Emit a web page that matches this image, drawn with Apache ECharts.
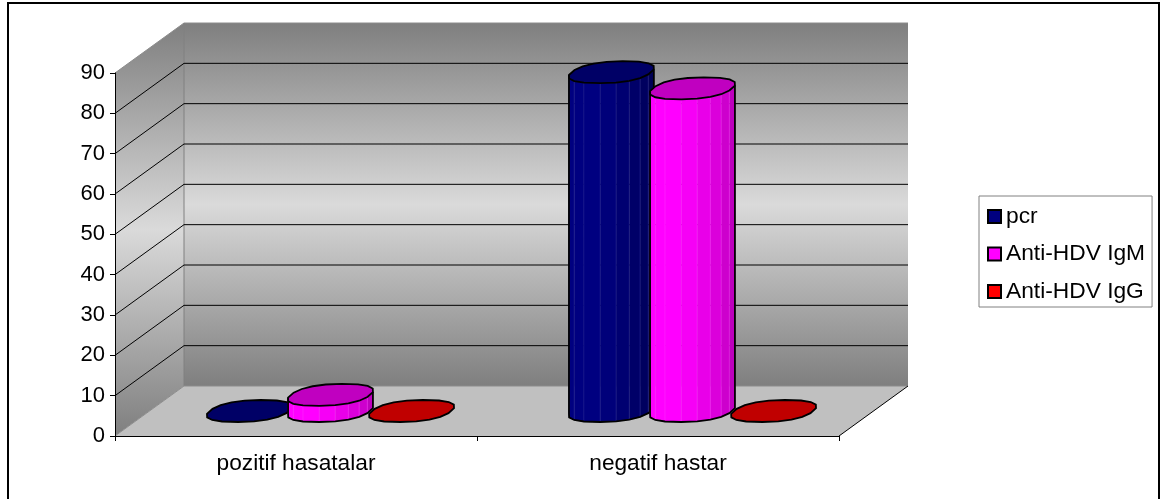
<!DOCTYPE html>
<html>
<head>
<meta charset="utf-8">
<style>html,body{margin:0;padding:0;background:#fff;overflow:hidden}#c{width:1162px;height:499px}</style>
<script src="https://cdn.jsdelivr.net/npm/echarts@6/dist/echarts.min.js"></script>
</head>
<body>
<div id="c"></div>
<script>
const categories = ['pozitif hasatalar', 'negatif hastar'];
const pcr = [0, 84];
const antiHdvIgM = [4, 80];
const antiHdvIgG = [0, 0];
const yTicks = [10, 20, 30, 40, 50, 60, 70, 80];

// Depth of the pseudo-3D box in pixels
const DX = 69, DY = 50;
const FONT = '"Liberation Sans", Arial, sans-serif';

function lerp(a, b, t) { return a + (b - a) * t; }
function mix(c1, c2, t) {
  return 'rgb(' + [0, 1, 2].map(i => Math.round(lerp(c1[i], c2[i], t))).join(',') + ')';
}

// Box walls, floor and gridlines, placed through the value axis
function renderBox(params, api) {
  const lb = api.coord([0, 0]);
  const band = api.size([1, 0])[0];
  const xL = lb[0] - band / 2, xR = xL + band * 2;
  const y0 = lb[1], yT = api.coord([0, 90])[1];
  const wallFill = {
    type: 'linear', x: 0, y: 0, x2: 0, y2: 1,
    colorStops: [
      { offset: 0, color: '#7f7f7f' },
      { offset: 0.5, color: '#dadada' },
      { offset: 1, color: '#7f7f7f' }
    ]
  };
  const kids = [
    { type: 'polygon', shape: { points: [[xL + DX, yT - DY], [xR + DX, yT - DY], [xR + DX, y0 - DY], [xL + DX, y0 - DY]] },
      style: { fill: wallFill, stroke: null } },
    { type: 'polygon', shape: { points: [[xL, yT], [xL + DX, yT - DY], [xL + DX, y0 - DY], [xL, y0]] },
      style: { fill: wallFill, stroke: null } },
    { type: 'polygon', shape: { points: [[xL, y0], [xR, y0], [xR + DX, y0 - DY], [xL + DX, y0 - DY]] },
      style: { fill: '#c0c0c0', stroke: null } },
    { type: 'polyline', shape: { points: [[xL, yT], [xL + DX, yT - DY], [xR + DX, yT - DY]] },
      style: { fill: null, stroke: '#8c8c8c', lineWidth: 1 } },
    { type: 'line', shape: { x1: xL + DX, y1: yT - DY, x2: xL + DX, y2: y0 - DY },
      style: { stroke: '#808080', lineWidth: 1 } },
    { type: 'polyline', shape: { points: [[xL, y0], [xL + DX, y0 - DY], [xR + DX, y0 - DY]] },
      style: { fill: null, stroke: '#8c8c8c', lineWidth: 1 } },
    { type: 'line', shape: { x1: xR, y1: y0, x2: xR + DX, y2: y0 - DY },
      style: { stroke: '#000', lineWidth: 1 } }
  ];
  yTicks.forEach(v => {
    const y = api.coord([0, v])[1];
    kids.push({ type: 'polyline', shape: { points: [[xL, y], [xL + DX, y - DY], [xR + DX, y - DY]] },
      style: { fill: null, stroke: '#000', lineWidth: 1 } });
  });
  return { type: 'group', children: kids };
}

// A faceted cylinder standing on the middle of the floor depth
function cylinder(slot, side, sideDark, cap) {
  return function (params, api) {
    const i = api.value(0), v = api.value(1);
    const base = api.coord([i, 0]);
    const top = api.coord([i, v]);
    const band = api.size([1, 0])[0];
    const cx = base[0] + DX / 2 + slot * band * 0.224;
    const yB = base[1] - DY / 2, yTop = top[1] - DY / 2;
    const a = band * 0.11, b = 11, s = 13;
    const N = 18;
    // Slightly squared ring, so the cap reads as a coarse polygon
    const ringAt = cy => {
      const pts = [];
      for (let k = 0; k < N; k++) {
        const t = 2 * Math.PI * k / N + 0.2;
        const c = Math.cos(t), d = Math.sin(t);
        const u = Math.sign(c) * Math.pow(Math.abs(c), 0.85);
        const w = Math.sign(d) * Math.pow(Math.abs(d), 0.85);
        pts.push([cx + a * u + s * w, cy - b * w]);
      }
      return pts;
    };
    const topRing = ringAt(yTop), baseRing = ringAt(yB);
    let iL = 0, iR = 0;
    topRing.forEach((p, k) => {
      if (p[0] < topRing[iL][0]) iL = k;
      if (p[0] > topRing[iR][0]) iR = k;
    });
    const kids = [];
    if (yB - yTop > 1) {
      const run = (iR - iL + N) % N;
      const lower = [];
      for (let k = 0; k < run; k++) {
        const p = (iL + k) % N, q = (iL + k + 1) % N;
        const f = run > 1 ? k / (run - 1) : 0;
        kids.push({
          type: 'polygon',
          shape: { points: [topRing[p], topRing[q], baseRing[q], baseRing[p]] },
          style: { fill: mix(side, sideDark, Math.pow(Math.max(0, f - 0.4) / 0.6, 1.1)), stroke: mix(side, [255, 255, 255], 0.15), lineWidth: 0.4 }
        });
      }
      for (let k = 0; k <= run; k++) lower.push(baseRing[(iL + k) % N]);
      kids.push({
        type: 'polyline',
        shape: { points: [topRing[iL]].concat(lower, [topRing[iR]]) },
        style: { fill: null, stroke: '#000', lineWidth: 1.8 }
      });
    }
    kids.push({ type: 'polygon', shape: { points: topRing }, style: { fill: cap, stroke: '#000', lineWidth: 1.8 } });
    return { type: 'group', children: kids };
  };
}

function barSeries(name, values, slot, legendColor, side, sideDark, cap) {
  return {
    type: 'custom', name: name, z: 3,
    itemStyle: { color: legendColor, borderColor: '#000', borderWidth: 1 },
    encode: { x: 0, y: 1 },
    data: categories.map((c, i) => [i, values[i]]),
    renderItem: cylinder(slot, side, sideDark, cap)
  };
}

const chart = echarts.init(document.getElementById('c'), null, { renderer: 'canvas' });
chart.setOption({
  animation: false,
  backgroundColor: '#fff',
  graphic: [{
    type: 'rect', silent: true, z: 0,
    shape: { x: 8, y: 3, width: 1151, height: 510 },
    style: { fill: null, stroke: '#000', lineWidth: 2 }
  }],
  grid: { left: 115, top: 73, width: 724, height: 363, containLabel: false },
  xAxis: {
    type: 'category', data: categories, z: 5,
    axisLine: { lineStyle: { color: '#000', width: 1 } },
    axisTick: { show: true, length: 5, alignWithLabel: false, lineStyle: { color: '#000' } },
    axisLabel: { color: '#000', fontFamily: FONT, fontSize: 22.7, margin: 16, interval: 0 }
  },
  yAxis: {
    type: 'value', min: 0, max: 90, interval: 10, z: 5,
    axisLine: { show: true, lineStyle: { color: '#000', width: 1 } },
    axisTick: { show: true, length: 5, lineStyle: { color: '#000' } },
    axisLabel: { color: '#000', fontFamily: FONT, fontSize: 22, margin: 10, padding: [4, 0, 0, 0] },
    splitLine: { show: false }
  },
  legend: {
    orient: 'vertical', left: 979, top: 196,
    data: ['pcr', 'Anti-HDV IgM', 'Anti-HDV IgG'],
    icon: 'rect', itemWidth: 13, itemHeight: 13, itemGap: 12.5,
    padding: [8, 7, 3, 8],
    borderColor: '#808080', borderWidth: 1, selectedMode: false,
    textStyle: { color: '#000', fontFamily: FONT, fontSize: 22.75, lineHeight: 25 }
  },
  series: [
    { type: 'custom', z: 1, silent: true, data: [[0, 0]], encode: { x: 0, y: 1 }, renderItem: renderBox },
    barSeries('pcr', pcr, -1, '#000080', [0, 0, 128], [0, 0, 85], '#000066'),
    barSeries('Anti-HDV IgM', antiHdvIgM, 0, '#ff00ff', [255, 0, 255], [190, 0, 190], '#c000c0'),
    barSeries('Anti-HDV IgG', antiHdvIgG, 1, '#ff0000', [255, 0, 0], [190, 0, 0], '#c00000')
  ]
});
</script>
</body>
</html>
